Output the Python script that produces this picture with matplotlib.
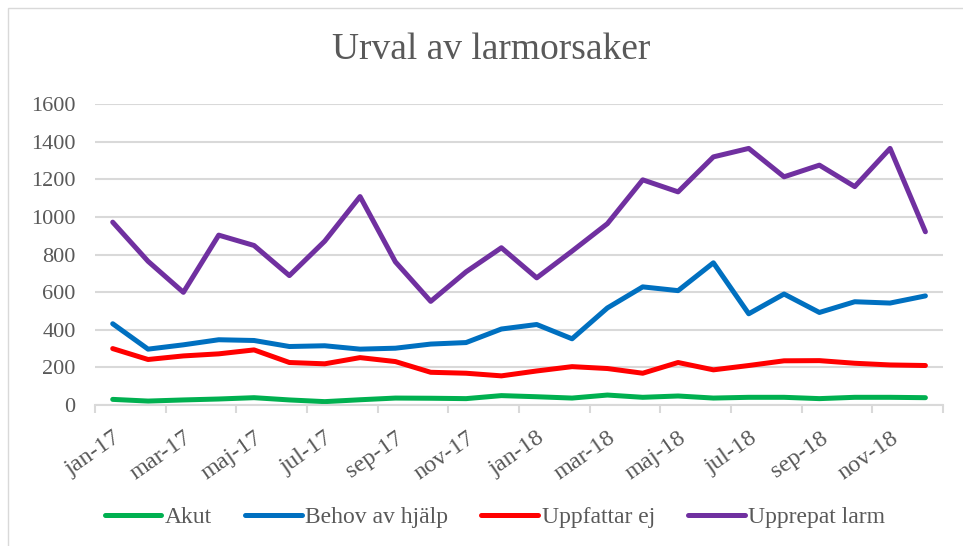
import matplotlib.pyplot as plt
from matplotlib.patches import Rectangle

plt.rcParams['font.family'] = ['Liberation Serif', 'DejaVu Serif']

MONTHS = ['jan', 'feb', 'mar', 'apr', 'maj', 'jun',
          'jul', 'aug', 'sep', 'okt', 'nov', 'dec']
CATEGORIES = [f'{m}-{y}' for y in ('17', '18') for m in MONTHS]

AKUT = [30, 21, 27, 32, 39, 27, 18, 28, 37, 36, 34, 50,
        44, 37, 53, 41, 48, 37, 41, 41, 34, 41, 41, 39]
BEHOV = [432, 297, 320, 347, 343, 311, 315, 297, 302, 324, 332, 404,
         428, 352, 516, 628, 608, 756, 485, 590, 492, 549, 542, 580]
UPPFATTAR = [300, 242, 261, 272, 293, 226, 219, 252, 231, 174, 169, 155,
             181, 204, 194, 169, 226, 187, 210, 235, 236, 222, 213, 210]
UPPREPAT = [972, 764, 599, 903, 848, 688, 871, 1108, 761, 551, 708, 836,
            676, 818, 964, 1197, 1133, 1319, 1364, 1213, 1275, 1161, 1364, 921]

SERIES = [
    ('Akut', AKUT, '#00B050'),
    ('Behov av hjälp', BEHOV, '#0070C0'),
    ('Uppfattar ej', UPPFATTAR, '#FF0000'),
    ('Upprepat larm', UPPREPAT, '#7030A0'),
]

TEXT = '#595959'
GRID = '#D9D9D9'


def main():
    fig = plt.figure(figsize=(9.63, 5.46), dpi=100)
    ax = fig.add_axes([0.0987, 0.2582, 0.8806, 0.5513])

    # light frame round the chart area, as in the export
    fig.patches.append(Rectangle((8 / 963, -0.1), 1.2, 1 - 8 / 546 + 0.1,
                                 transform=fig.transFigure, fill=False,
                                 edgecolor=GRID, linewidth=1))

    x = range(len(CATEGORIES))
    for name, values, colour in SERIES:
        ax.plot(x, values, color=colour, linewidth=3.6, label=name,
                solid_capstyle='round', solid_joinstyle='round')

    ax.set_xlim(-0.5, len(CATEGORIES) - 0.5)
    ax.set_ylim(0, 1600)
    ax.set_yticks(range(0, 1601, 200))
    ax.yaxis.grid(True, color=GRID, linewidth=1.5)
    ax.set_axisbelow(True)

    for side in ('top', 'right', 'left'):
        ax.spines[side].set_visible(False)
    ax.spines['bottom'].set_color(GRID)
    ax.spines['bottom'].set_linewidth(1.5)

    ax.tick_params(axis='y', length=0, pad=14, labelsize=16, labelcolor=TEXT)
    # tick marks sit between categories, labels on every other category
    ax.set_xticks([i - 0.5 for i in range(0, len(CATEGORIES) + 1, 2)])
    ax.set_xticklabels([])
    ax.tick_params(axis='x', length=6, width=1.5, color=GRID)
    ax.set_xticks(list(range(0, len(CATEGORIES), 2)), minor=True)
    ax.tick_params(axis='x', which='minor', length=0, pad=16, labelsize=17.5,
                   labelcolor=TEXT)
    ax.set_xticklabels(CATEGORIES[::2], minor=True, rotation=35, ha='right',
                       va='top', rotation_mode='anchor')

    fig.text(0.51, 0.908, 'Urval av larmorsaker', ha='center', va='center',
             fontsize=27, color=TEXT)

    leg = fig.legend(loc='center', bbox_to_anchor=(0.514, 0.053), ncol=4,
                     frameon=False, fontsize=17, handlelength=2.4,
                     handletextpad=0.15, columnspacing=1.4)
    for text in leg.get_texts():
        text.set_color(TEXT)

    fig.savefig('out.png', dpi=100)


main()
